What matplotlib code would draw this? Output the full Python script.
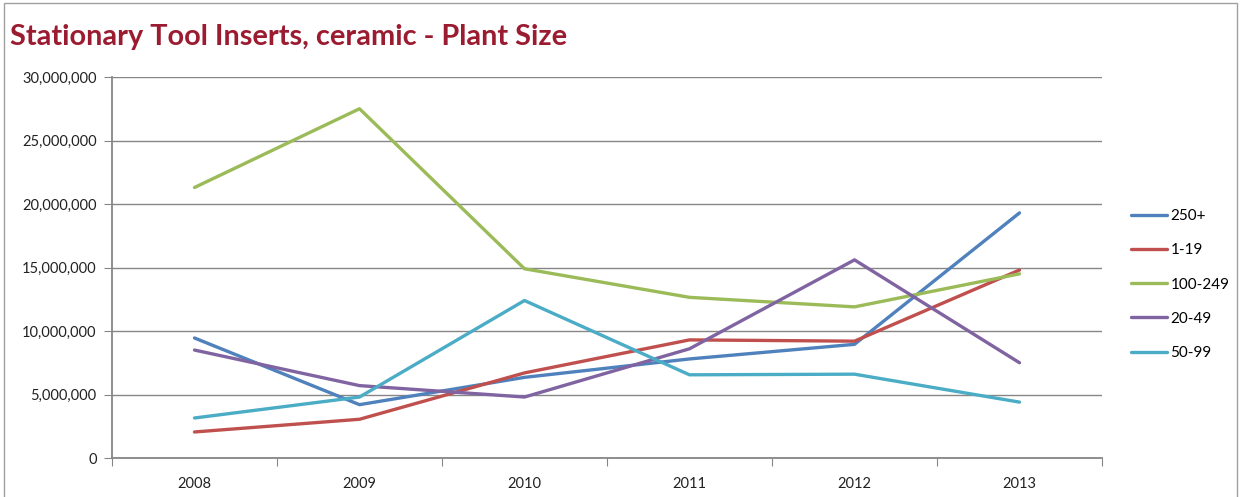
import numpy as np
import matplotlib.pyplot as plt
from matplotlib.patches import Rectangle
from matplotlib.ticker import FuncFormatter

years = ['2008', '2009', '2010', '2011', '2012', '2013']
series_names = ['250+', '1-19', '100-249', '20-49', '50-99']

# values
s250 = [9.45e6, 4.2e6, 6.35e6, 7.8e6, 8.95e6, 19.3e6]
s1_19 = [2.05e6, 3.05e6, 6.7e6, 9.3e6, 9.2e6, 14.8e6]
s100_249 = [21.3e6, 27.5e6, 14.9e6, 12.65e6, 11.9e6, 14.5e6]
s20_49 = [8.5e6, 5.7e6, 4.8e6, 8.6e6, 15.6e6, 7.5e6]
s50_99 = [3.15e6, 4.8e6, 12.4e6, 6.55e6, 6.6e6, 4.4e6]

colors = ['#4F81BD', '#C0504D', '#9BBB59', '#8064A2', '#4BACC6']
grey = '#868686'

plt.rcParams['font.family'] = ['Lato', 'DejaVu Sans']

fig = plt.figure(figsize=(12.41, 4.97), dpi=100)
ax = fig.add_axes([112/1241, 39/497, 990/1241, 381/497])

x = np.arange(len(years))
all_series = [s250, s1_19, s100_249, s20_49, s50_99]
for vals, name, c in zip(all_series, series_names, colors):
    ax.plot(x, vals, color=c, lw=2.4, label=name, solid_capstyle='round')

ax.set_xlim(-0.5, 5.5)
ax.set_ylim(0, 30e6)
ax.set_yticks(np.arange(0, 30e6 + 1, 5e6))
ax.yaxis.set_major_formatter(FuncFormatter(lambda v, p: f'{int(v):,}'))
ax.set_xticks(np.arange(-0.5, 6, 1))
ax.set_xticklabels([])
ax.set_xticks(x, minor=True)
ax.set_xticklabels(years, minor=True)
ax.tick_params(axis='x', which='major', length=6, color=grey, direction='out')
ax.tick_params(axis='x', which='minor', length=0, pad=14, labelsize=10.5, labelcolor='#222222')
ax.tick_params(axis='y', length=6, color=grey, labelsize=10.5, labelcolor='#222222', pad=5)
ax.grid(axis='y', color=grey, lw=1)
ax.set_axisbelow(True)
for s in ['top', 'right']:
    ax.spines[s].set_visible(False)
for s in ['left', 'bottom']:
    ax.spines[s].set_color(grey)
    ax.spines[s].set_linewidth(1.3)

ax.legend(loc='center left', bbox_to_anchor=(1.015, 0.455), frameon=False,
          fontsize=11, handlelength=2.4, labelspacing=1.32, handletextpad=0.2)

fig.text(10/1241, 1 - 37/497, 'Stationary Tool Inserts, ceramic - Plant Size',
         color='#9B1B30', fontsize=20.8, fontweight='bold', va='center', ha='left')

fig.patches.append(Rectangle((4/1241, -0.1), 1233/1241, 1.0 - 3/497 + 0.1,
                             transform=fig.transFigure, fill=False,
                             edgecolor='#a0a0a0', lw=1))

fig.savefig('out.png', dpi=100)
